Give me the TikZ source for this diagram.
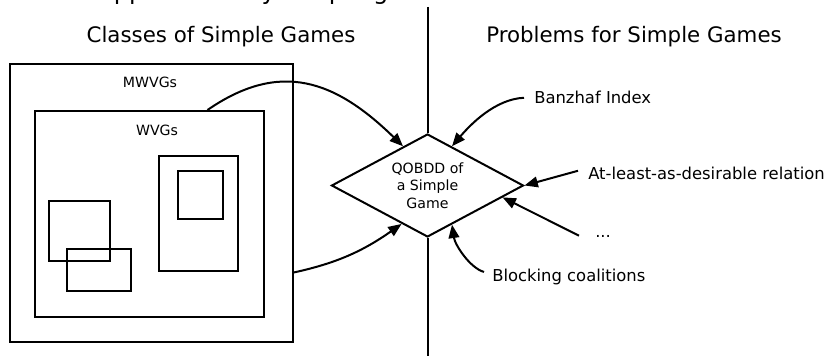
\documentclass[tikz,border=0pt]{standalone}
\usepackage{fontspec}
\setmainfont{DejaVu Sans}
\usetikzlibrary{shapes.geometric,arrows.meta,calc}
\begin{document}
\begin{tikzpicture}[x=0.75pt,y=-0.75pt,
  thick line/.style={line width=1.5pt},
  box/.style={draw,line width=1.5pt,inner sep=0pt},
  conn/.style={line width=1.5pt,-{Triangle[length=10pt,width=8pt]}},
  headfont/.style={font=\fontsize{16}{19}\selectfont},
  labfont/.style={font=\fontsize{12.3}{15}\selectfont},
  smallfont/.style={font=\fontsize{10.6}{13}\selectfont},
  lab/.style={labfont,anchor=base west,inner ysep=0pt,text depth=0pt}]
\useasboundingbox (0,0) rectangle (828,356);

% title (cut off by the top edge)
\node[anchor=base west,inner sep=0pt,font=\fontsize{18}{22}\selectfont] (title) at (97.3,-0.5) {Approaches by Simple games};

% headings
\node[headfont,anchor=base] (hl) at (221,43) {Classes of Simple Games};
\node[headfont,anchor=base] (hr) at (634,43) {Problems for Simple Games};

% boxes
\node[box,minimum width=212.25pt,minimum height=208.5pt] (mw) at (151.5,203) {};
\node[smallfont,anchor=base] (mwl) at (150,88) {MWVGs};
\node[box,minimum width=171.75pt,minimum height=154.5pt] (wv) at (149.5,214) {};
\node[smallfont,anchor=base] (wvl) at (157,136) {WVGs};
\node[box,minimum width=45.75pt,minimum height=45pt] (s1) at (79.5,231) {};
\node[box,minimum width=48pt,minimum height=31.5pt] (s2) at (99,270) {};
\node[box,minimum width=59.25pt,minimum height=86.25pt] (t1) at (198.5,213.5) {};
\node[box,minimum width=33.75pt,minimum height=36pt] (t2) at (200.5,195) {};

% diamond
\node[diamond,draw,line width=1.5pt,inner sep=0pt,shape aspect=1.86,
  minimum width=144pt,minimum height=77.25pt,align=center,smallfont] (q) at (427.5,185.5)
  {QOBDD of\\a Simple\\Game};

% vertical separator
\coordinate (vt) at (427.5,7);
\coordinate (vb) at (427.5,360);
\draw[thick line] (vt) -- (q.north);
\draw[thick line] (q.south) -- (vb);

% problem labels
\node[lab,inner xsep=7.5pt] (bz) at (524,104) {Banzhaf Index};
\node[lab,inner xsep=7.5pt] (al) at (578,180) {At-least-as-desirable relation};
\node[lab,inner xsep=12pt] (dt) at (579,238) {...};
\node[lab,inner xsep=6pt] (bl) at (484,281.5) {Blocking coalitions};

% connectors from classes
\coordinate (wvtop) at ($(wv.north west)!0.751!(wv.north east)$);
\coordinate (mwright) at ($(mw.north east)!0.748!(mw.south east)$);
\draw[conn] (wvtop) .. controls (280,60) and (335,80) .. (q.122);
\draw[conn] (mwright) .. controls (337,263) and (363,251) .. (q.-124);

% connectors from problems
\draw[conn] (bz.west) .. controls (495,99) and (470,125) .. (q.58);
\draw[conn] ([yshift=2.25pt]al.west) -- (q.east);
\draw[conn] ([yshift=1pt]dt.west) -- (q.-9);
\draw[conn] ([yshift=2.5pt]bl.west) .. controls (470,268) and (455,245) .. (q.-58);
\end{tikzpicture}
\end{document}
